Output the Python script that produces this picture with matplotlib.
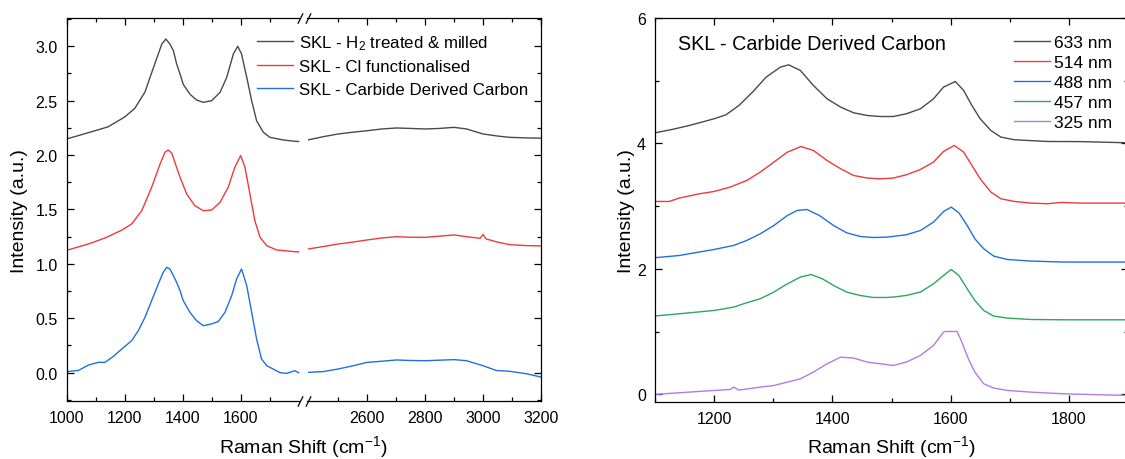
import numpy as np
import matplotlib
matplotlib.use("Agg")
import matplotlib.pyplot as plt
from matplotlib.ticker import MultipleLocator, FixedLocator

plt.rcParams['font.family'] = ['Liberation Sans', 'DejaVu Sans']
plt.rcParams['mathtext.default'] = 'regular'

# ---- left panel: three samples, broken axis (1000-1800 | 2400-3200) ----
h2_x_lo = [1000, 1098, 1143, 1200, 1235, 1270, 1304, 1328, 1342, 1356, 1368, 1379, 1391, 1402,
           1425, 1448, 1471, 1500, 1529, 1552, 1575, 1590, 1603, 1621, 1638, 1655, 1678, 1701,
           1747, 1787, 1800]
h2_y_lo = [2.148, 2.224, 2.26, 2.35, 2.43, 2.58, 2.84, 3.02, 3.067, 3.02, 2.96, 2.84, 2.745, 2.65,
           2.56, 2.506, 2.485, 2.50, 2.577, 2.715, 2.93, 3.0, 2.93, 2.715, 2.50, 2.316, 2.21, 2.163,
           2.139, 2.127, 2.125]
h2_x_hi = [2397, 2450, 2500, 2550, 2600, 2650, 2701, 2750, 2800, 2850, 2900, 2943, 3000, 3050,
           3092, 3150, 3200]
h2_y_hi = [2.14, 2.17, 2.194, 2.21, 2.224, 2.24, 2.249, 2.245, 2.24, 2.245, 2.255, 2.24, 2.194,
           2.175, 2.163, 2.158, 2.155]

cl_x_lo = [1000, 1075, 1132, 1190, 1224, 1259, 1293, 1322, 1339, 1350, 1362, 1379, 1391, 1414,
           1442, 1471, 1500, 1529, 1557, 1580, 1600, 1615, 1632, 1649, 1667, 1690, 1724, 1787, 1800]
cl_y_lo = [1.125, 1.183, 1.238, 1.31, 1.367, 1.489, 1.704, 1.918, 2.026, 2.047, 2.02, 1.888, 1.796,
           1.642, 1.535, 1.489, 1.495, 1.566, 1.704, 1.888, 1.995, 1.888, 1.642, 1.397, 1.244,
           1.167, 1.128, 1.112, 1.11]
cl_x_hi = [2397, 2450, 2500, 2550, 2600, 2650, 2701, 2750, 2800, 2850, 2900, 2943, 2990, 3000,
           3010, 3050, 3092, 3150, 3200]
cl_y_hi = [1.137, 1.16, 1.183, 1.2, 1.22, 1.238, 1.25, 1.245, 1.244, 1.255, 1.266, 1.25, 1.235,
           1.27, 1.23, 1.2, 1.177, 1.168, 1.165]

cdc_x_lo = [1000, 1040, 1075, 1109, 1132, 1161, 1190, 1224, 1247, 1270, 1293, 1316, 1333, 1345,
            1356, 1368, 1379, 1391, 1402, 1425, 1448, 1471, 1500, 1523, 1546, 1569, 1586, 1603,
            1621, 1638, 1655, 1672, 1690, 1712, 1736, 1759, 1787, 1800]
cdc_y_lo = [0.01, 0.02, 0.07, 0.095, 0.095, 0.15, 0.218, 0.294, 0.386, 0.509, 0.662, 0.815, 0.923,
            0.969, 0.953, 0.892, 0.831, 0.754, 0.662, 0.555, 0.478, 0.432, 0.448, 0.47, 0.555,
            0.708, 0.861, 0.953, 0.80, 0.555, 0.31, 0.126, 0.064, 0.034, 0.0, -0.006, 0.018, 0.0]
cdc_x_hi = [2397, 2448, 2500, 2552, 2600, 2650, 2701, 2750, 2800, 2850, 2900, 2943, 3000, 3046,
            3092, 3150, 3200]
cdc_y_hi = [0.003, 0.01, 0.034, 0.064, 0.095, 0.105, 0.117, 0.112, 0.11, 0.115, 0.12, 0.11, 0.064,
            0.02, 0.013, -0.01, -0.04]

left_labels = ["SKL - H$_2$ treated & milled", "SKL - Cl functionalised",
               "SKL - Carbide Derived Carbon"]
left_colors = ['#4a4a4a', '#f03a3a', '#2070e0']

# ---- right panel: CDC at five excitation wavelengths ----
x633 = [1098, 1129, 1158, 1200, 1220, 1242, 1265, 1288, 1312, 1326, 1346, 1368, 1391, 1414, 1436,
        1459, 1481, 1503, 1525, 1549, 1571, 1588, 1608, 1622, 1636, 1650, 1668, 1685, 1708, 1764,
        1820, 1900]
y633 = [4.166, 4.224, 4.287, 4.394, 4.457, 4.606, 4.819, 5.058, 5.217, 5.254, 5.163, 4.924, 4.712,
        4.58, 4.489, 4.446, 4.43, 4.43, 4.473, 4.553, 4.712, 4.899, 4.988, 4.845, 4.606, 4.394,
        4.208, 4.102, 4.059, 4.032, 4.03, 4.011]
x514 = [1098, 1124, 1141, 1175, 1200, 1227, 1255, 1278, 1301, 1324, 1347, 1368, 1391, 1414, 1436,
        1459, 1481, 1503, 1525, 1549, 1571, 1588, 1606, 1622, 1636, 1650, 1668, 1685, 1708, 1736,
        1764, 1787, 1820, 1900]
y514 = [3.076, 3.076, 3.13, 3.198, 3.235, 3.305, 3.41, 3.544, 3.703, 3.863, 3.952, 3.888, 3.729,
        3.597, 3.49, 3.449, 3.437, 3.449, 3.501, 3.586, 3.703, 3.873, 3.969, 3.863, 3.65, 3.437,
        3.226, 3.119, 3.076, 3.05, 3.04, 3.06, 3.05, 3.05]
x488 = [1098, 1141, 1200, 1233, 1255, 1278, 1301, 1324, 1340, 1357, 1378, 1402, 1424, 1447, 1469,
        1492, 1503, 1525, 1549, 1571, 1588, 1601, 1614, 1628, 1641, 1656, 1673, 1696, 1736, 1793,
        1900]
y488 = [2.178, 2.215, 2.311, 2.375, 2.454, 2.561, 2.693, 2.853, 2.932, 2.948, 2.853, 2.693, 2.577,
        2.518, 2.502, 2.507, 2.52, 2.545, 2.614, 2.747, 2.916, 2.986, 2.895, 2.693, 2.481, 2.322,
        2.205, 2.151, 2.126, 2.11, 2.11]
x457 = [1098, 1141, 1200, 1233, 1255, 1278, 1301, 1324, 1346, 1364, 1383, 1402, 1424, 1447, 1469,
        1492, 1503, 1525, 1549, 1571, 1588, 1601, 1614, 1628, 1641, 1656, 1673, 1696, 1736, 1793,
        1900]
y457 = [1.249, 1.286, 1.339, 1.392, 1.461, 1.525, 1.632, 1.764, 1.871, 1.912, 1.844, 1.737, 1.632,
        1.578, 1.546, 1.546, 1.552, 1.578, 1.632, 1.764, 1.896, 1.992, 1.896, 1.684, 1.498, 1.339,
        1.249, 1.217, 1.195, 1.19, 1.19]
x325 = [1098, 1141, 1200, 1228, 1233, 1242, 1278, 1301, 1324, 1346, 1368, 1391, 1414, 1436, 1459,
        1481, 1503, 1525, 1549, 1571, 1588, 1591, 1611, 1619, 1630, 1641, 1656, 1673, 1696, 1736,
        1793, 1900]
y325 = [0.0, 0.027, 0.064, 0.08, 0.117, 0.07, 0.117, 0.143, 0.197, 0.25, 0.357, 0.489, 0.595, 0.58,
        0.516, 0.489, 0.462, 0.516, 0.622, 0.781, 0.994, 1.004, 1.004, 0.835, 0.569, 0.357, 0.17,
        0.102, 0.064, 0.037, 0.01, -0.016]

right_labels = ["633 nm", "514 nm", "488 nm", "457 nm", "325 nm"]
right_colors = ['#4a4a4a', '#f03a3a', '#2070e0', '#2ea65e', '#b57ae6']

W, H = 1125, 460
fig = plt.figure(figsize=(W / 100, H / 100), dpi=100)


def box(l, t, r, b):
    return [l / W, 1 - b / H, (r - l) / W, (b - t) / H]


ax1 = fig.add_axes(box(66.7, 19, 299.5, 402.3))
ax2 = fig.add_axes(box(307.5, 19, 541, 402.3))
ax3 = fig.add_axes(box(655, 19, 1128, 403))


def style(ax, left=True, right=True, size=11.5):
    ax.tick_params(which='both', direction='in', top=True, bottom=True,
                   left=left, right=right, labelsize=size, width=0.9)
    ax.tick_params(which='major', length=4.8)
    ax.tick_params(which='minor', length=3.0)
    ax.tick_params(axis='x', pad=6.5)
    ax.tick_params(axis='y', pad=6.5)
    for s in ax.spines.values():
        s.set_linewidth(0.9)


lw = 1.0
lo = [(h2_x_lo, h2_y_lo), (cl_x_lo, cl_y_lo), (cdc_x_lo, cdc_y_lo)]
hi = [(h2_x_hi, h2_y_hi), (cl_x_hi, cl_y_hi), (cdc_x_hi, cdc_y_hi)]
handles = []
for (xl, yl), (xh, yh), c, lab in zip(lo, hi, left_colors, left_labels):
    ln, = ax1.plot(xl, yl, color=c, lw=lw, label=lab)
    ax2.plot(xh, yh, color=c, lw=lw)
    handles.append(ln)

for ax in (ax1, ax2):
    ax.set_ylim(-0.263, 3.26)
    ax.yaxis.set_major_locator(MultipleLocator(0.5))
    ax.yaxis.set_minor_locator(MultipleLocator(0.25))
ax1.set_xlim(1000, 1803)
ax2.set_xlim(2394, 3200)
ax1.xaxis.set_major_locator(FixedLocator([1000, 1200, 1400, 1600]))
ax1.xaxis.set_minor_locator(FixedLocator([1100, 1300, 1500, 1700]))
ax2.xaxis.set_major_locator(FixedLocator([2600, 2800, 3000, 3200]))
ax2.xaxis.set_minor_locator(FixedLocator([2500, 2700, 2900, 3100]))
ax1.yaxis.set_major_formatter(plt.FormatStrFormatter('%.1f'))
ax1.spines['right'].set_visible(False)
ax2.spines['left'].set_visible(False)
style(ax1, left=True, right=False)
style(ax2, left=False, right=True)
ax2.tick_params(labelleft=False)

# break marks
mk = dict(marker=[(-1, -2), (1, 2)], markersize=7.5, linestyle='none',
          color='k', mec='k', mew=0.9, clip_on=False)
ax1.plot([1, 1], [0, 1], transform=ax1.transAxes, **mk)
ax2.plot([0, 0], [0, 1], transform=ax2.transAxes, **mk)

ax1.set_ylabel("Intensity (a.u.)", fontsize=14, labelpad=5)
fig.text((66.7 + 541) / 2 / W, 1 - 447 / H, "Raman Shift (cm$^{-1}$)", fontsize=14,
         ha='center', va='center')

fig.legend(handles, left_labels, loc='upper left', bbox_to_anchor=(257 / W, 1 - 34 / H),
           frameon=False, fontsize=12.2, handlelength=2.1, handletextpad=0.35,
           labelspacing=0.45, borderpad=0, borderaxespad=0)

# right panel
for xs, ys, c, lab in zip([x633, x514, x488, x457, x325], [y633, y514, y488, y457, y325],
                          right_colors, right_labels):
    ax3.plot(xs, ys, color=c, lw=lw, label=lab)
ax3.set_xlim(1100, 1900)
ax3.set_ylim(-0.12, 6)
ax3.xaxis.set_major_locator(MultipleLocator(200))
ax3.xaxis.set_minor_locator(MultipleLocator(100))
ax3.yaxis.set_major_locator(MultipleLocator(2))
ax3.yaxis.set_minor_locator(MultipleLocator(1))
style(ax3, size=11.5)
ax3.set_ylabel("Intensity (a.u.)", fontsize=14, labelpad=1.5)
ax3.set_xlabel("Raman Shift (cm$^{-1}$)", fontsize=14, labelpad=5)
ax3.text(678 / W, 1 - 45 / H, "SKL - Carbide Derived Carbon", transform=fig.transFigure,
         fontsize=14.2, ha='left', va='center')
ax3.legend(loc='upper left', bbox_to_anchor=(1014 / W, 1 - 36 / H), bbox_transform=fig.transFigure,
           frameon=False, fontsize=12.5, handlelength=2.1, handletextpad=0.2,
           labelspacing=0.28, borderpad=0, borderaxespad=0)

fig.savefig("out.png", dpi=100)
